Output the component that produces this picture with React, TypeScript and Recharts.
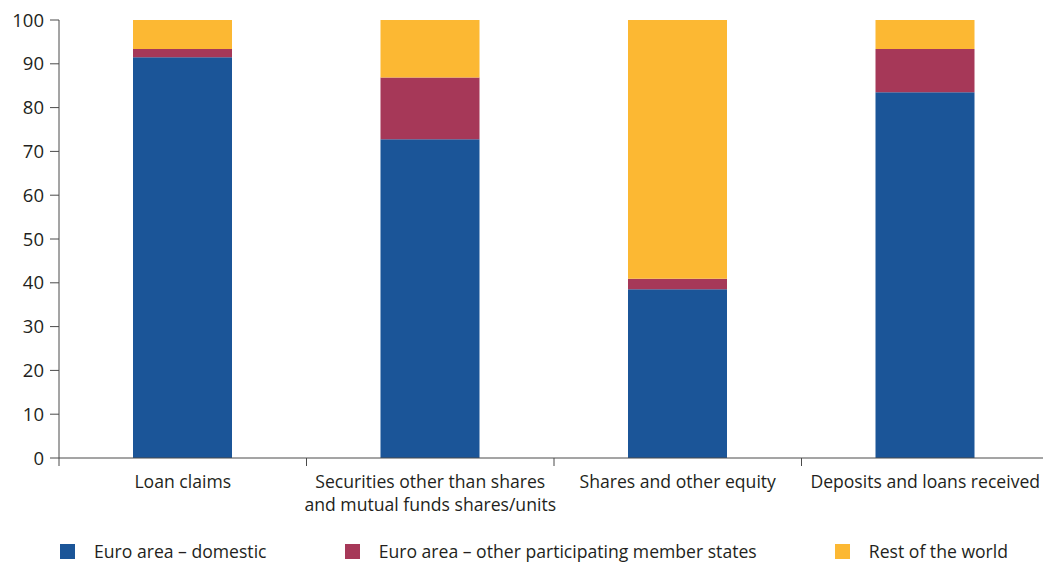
import React from "react";
import { BarChart, Bar, XAxis, YAxis } from "recharts";

const categories = [
  "Loan claims",
  "Securities other than shares\nand mutual funds shares/units",
  "Shares and other equity",
  "Deposits and loans received",
];
const domestic = [91.5, 72.8, 38.5, 83.5];
const otherMember = [1.9, 14.1, 2.4, 9.9];
const restOfWorld = [6.6, 13.1, 59.1, 6.6];
const yTicks = [0, 10, 20, 30, 40, 50, 60, 70, 80, 90, 100];

const seriesNames = [
  "Euro area – domestic",
  "Euro area – other participating member states",
  "Rest of the world",
];
const seriesColors = ["#1b5598", "#a63858", "#fcb833"];
const seriesKeys = ["domestic", "other", "rest"];

const data = categories.map((c, i) => ({
  name: c,
  domestic: domestic[i],
  other: otherMember[i],
  rest: restOfWorld[i],
}));

const W = 1050;
const H = 562;
const LEFT = 59;
const RIGHT = 1;
const BAND = (W - LEFT - RIGHT) / categories.length;
const FONT = "'Open Sans', sans-serif";
const INK = "#231f20";
const AXIS = "#4a4a4a";
const FS = 17.6;

function CategoryTick(props: any) {
  const { x, y, payload, index } = props;
  const lines = String(payload.value).split("\n");
  const left = x - BAND / 2;
  return (
    <g>
      <line x1={left} y1={y} x2={left} y2={y + 8} stroke={AXIS} strokeWidth={1} />
      {index === categories.length - 1 && (
        <line x1={x + BAND / 2} y1={y} x2={x + BAND / 2} y2={y + 8} stroke={AXIS} strokeWidth={1} />
      )}
      <text textAnchor="middle" fill={INK} fontSize={FS} fontFamily={FONT}>
        {lines.map((l, i) => (
          <tspan key={i} x={x} y={y + 30 + i * 23}>
            {l}
          </tspan>
        ))}
      </text>
    </g>
  );
}

export default function App() {
  return (
    <div style={{ position: "absolute", left: 0, top: 0, width: 1043, height: H, overflow: "hidden", background: "#fff" }}>
      <BarChart width={W} height={H} data={data} margin={{ top: 20, right: RIGHT, bottom: 44, left: 0 }}>
        <XAxis
          dataKey="name"
          interval={0}
          height={60}
          tickLine={false}
          tickSize={0}
          tickMargin={0}
          axisLine={{ stroke: AXIS, strokeWidth: 1 }}
          tick={<CategoryTick />}
        />
        <YAxis
          width={LEFT}
          domain={[0, 100]}
          ticks={yTicks}
          interval={0}
          tickSize={9}
          tickMargin={6}
          axisLine={{ stroke: AXIS, strokeWidth: 1 }}
          tickLine={{ stroke: AXIS, strokeWidth: 1 }}
          tick={{ fill: INK, fontSize: 18.5, fontFamily: FONT }}
        />
        {seriesKeys.map((k, i) => (
          <Bar
            key={k}
            dataKey={k}
            stackId="a"
            fill={seriesColors[i]}
            barSize={99}
            isAnimationActive={false}
          />
        ))}
      </BarChart>
      <div
        style={{
          position: "absolute",
          left: 60,
          top: 540,
          width: 948,
          display: "flex",
          justifyContent: "space-between",
          fontFamily: FONT,
          fontSize: FS,
          color: INK,
          lineHeight: "22px",
        }}
      >
        {seriesNames.map((n, i) => (
          <div key={n} style={{ display: "flex", alignItems: "center" }}>
            <span style={{ width: 15, height: 15, background: seriesColors[i], marginRight: 19, display: "inline-block" }} />
            <span>{n}</span>
          </div>
        ))}
      </div>
    </div>
  );
}
